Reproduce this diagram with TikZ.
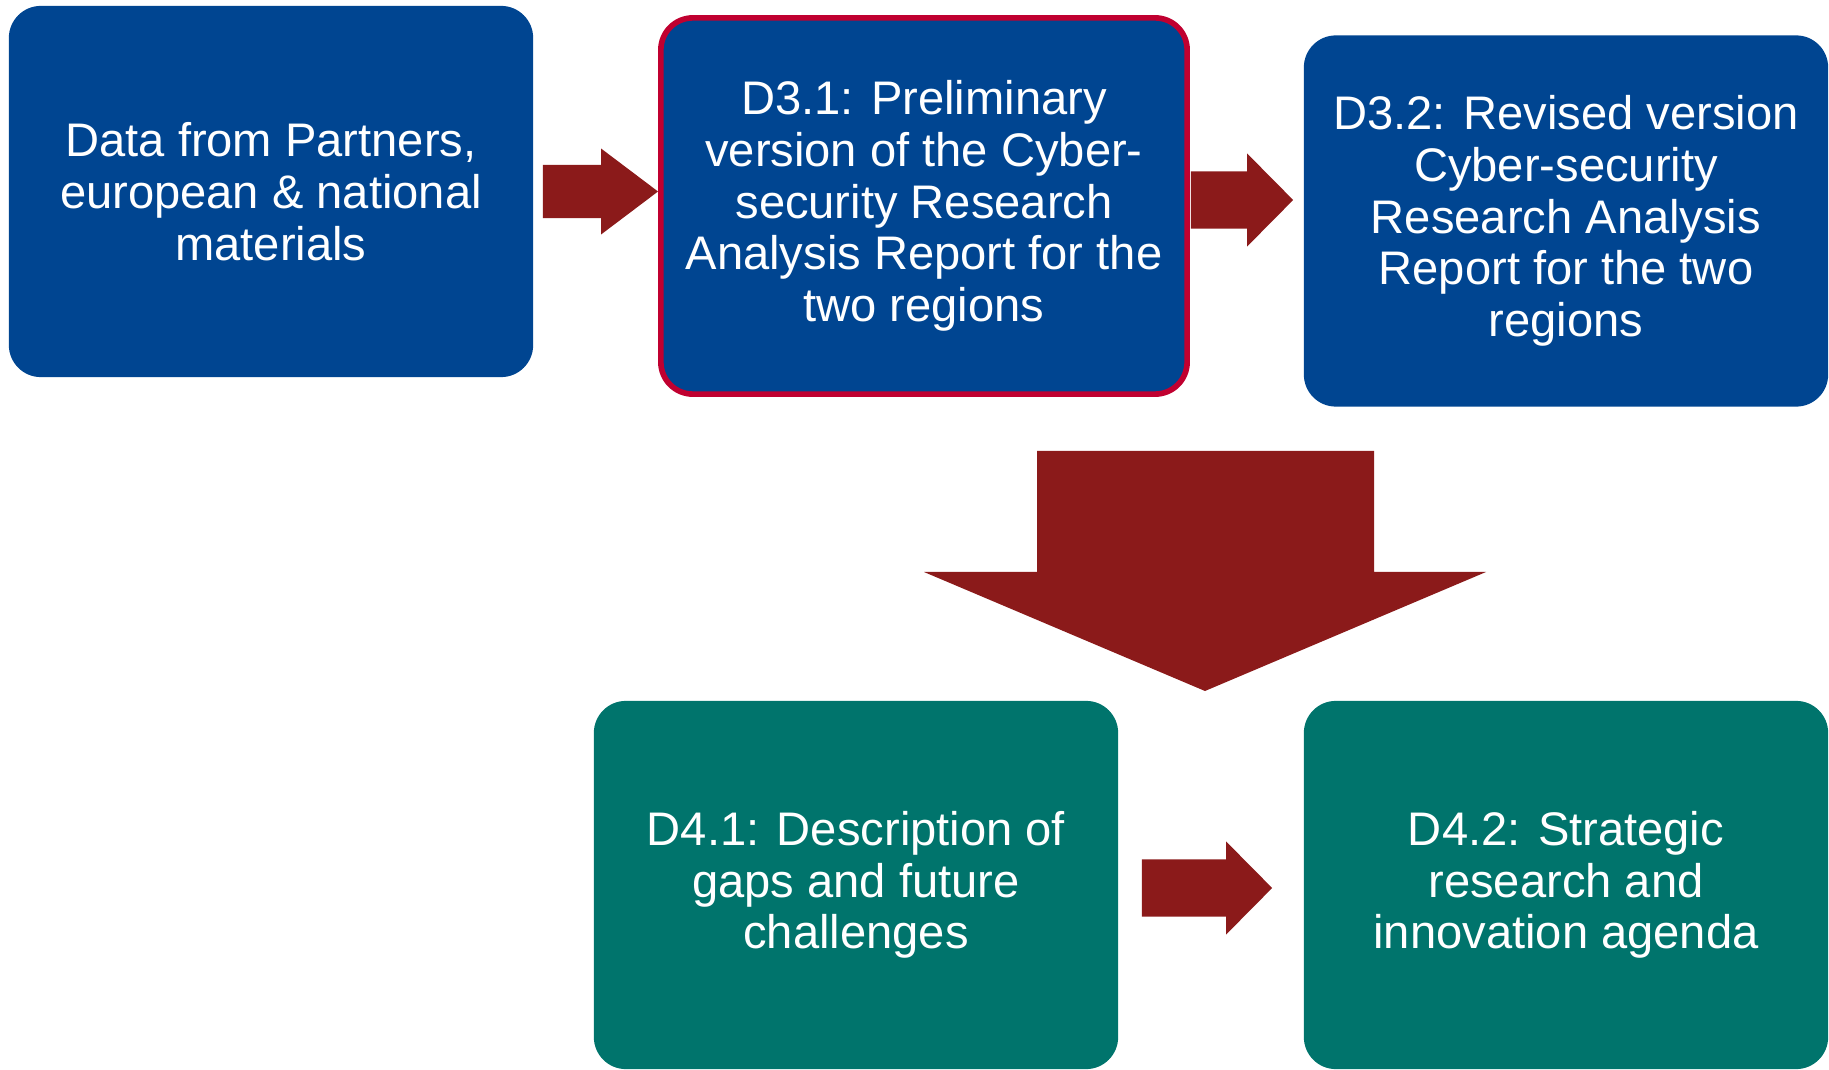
\documentclass[tikz,border=0pt]{standalone}
\usepackage{fontspec}
\setmainfont{Liberation Sans}
\usetikzlibrary{calc}

\definecolor{deliblue}{RGB}{0,69,145}
\definecolor{deliteal}{RGB}{0,116,108}
\definecolor{arrowred}{RGB}{139,26,26}
\definecolor{edgered}{RGB}{192,0,48}

\tikzset{
  delbox/.style={rectangle, rounded corners=0.32cm, align=center, text=white,
    minimum width=5.24cm, minimum height=3.71cm, inner sep=0pt,
    font=\fontsize{13.4pt}{14.7pt}\selectfont},
  bluebox/.style={delbox, fill=deliblue},
  tealbox/.style={delbox, fill=deliteal, minimum height=3.68cm},
  focusbox/.style={bluebox, draw=edgered, line width=1.6pt,
    minimum width=5.26cm, minimum height=3.76cm}
}

% fat arrow: tail, tip (only its x is used), shaft half, head half, head length
\newcommand{\fatarrow}[5]{%
  \fill[arrowred] let \p1=(#1), \p2=(#2) in
    (\x1,\y1+#3) -- (\x2-#5,\y1+#3) -- (\x2-#5,\y1+#4) -- (\x2,\y1)
    -- (\x2-#5,\y1-#4) -- (\x2-#5,\y1-#3) -- (\x1,\y1-#3) -- cycle;}

\begin{document}
\begin{tikzpicture}[x=0.01cm, y=-0.01cm]
  \useasboundingbox (0,0) rectangle (1829,1070);

  % top row
  \node[bluebox] (data) at (271,191.5) {Data from Partners,\\european \& national\\materials};
  \node[focusbox] (d31) at (924,206) {D3.1: Preliminary\\version of the Cyber-\\security Research\\Analysis Report for the\\two regions};
  \node[bluebox] (d32) at (1566,221) {D3.2: Revised version\\Cyber-security\\Research Analysis\\Report for the two\\regions};

  % bottom row
  \node[tealbox] (d41) at (856,885) {D4.1: Description of\\gaps and future\\challenges};
  \node[tealbox] (d42) at (1566,885) {D4.2: Strategic\\research and\\innovation agenda};

  % arrows
  \coordinate (t1) at ($(data.east)+(9,0)$);
  \coordinate (t2) at ($(d31.east)+(1,-6)$);
  \coordinate (t3) at ($(d41.east)+(23,3)$);
  \fatarrow{t1}{d31.west}{0.265cm}{0.43cm}{0.57cm}
  \fatarrow{t2}{$(d32.west)+(-10,0)$}{0.285cm}{0.465cm}{0.46cm}
  \fatarrow{t3}{$(d42.west)+(-31,0)$}{0.285cm}{0.465cm}{0.46cm}

  \fill[arrowred] (1037,451) -- (1374,451) -- (1374,572) -- (1486,572)
    -- (1205,691) -- (924,572) -- (1037,572) -- cycle;
\end{tikzpicture}
\end{document}
